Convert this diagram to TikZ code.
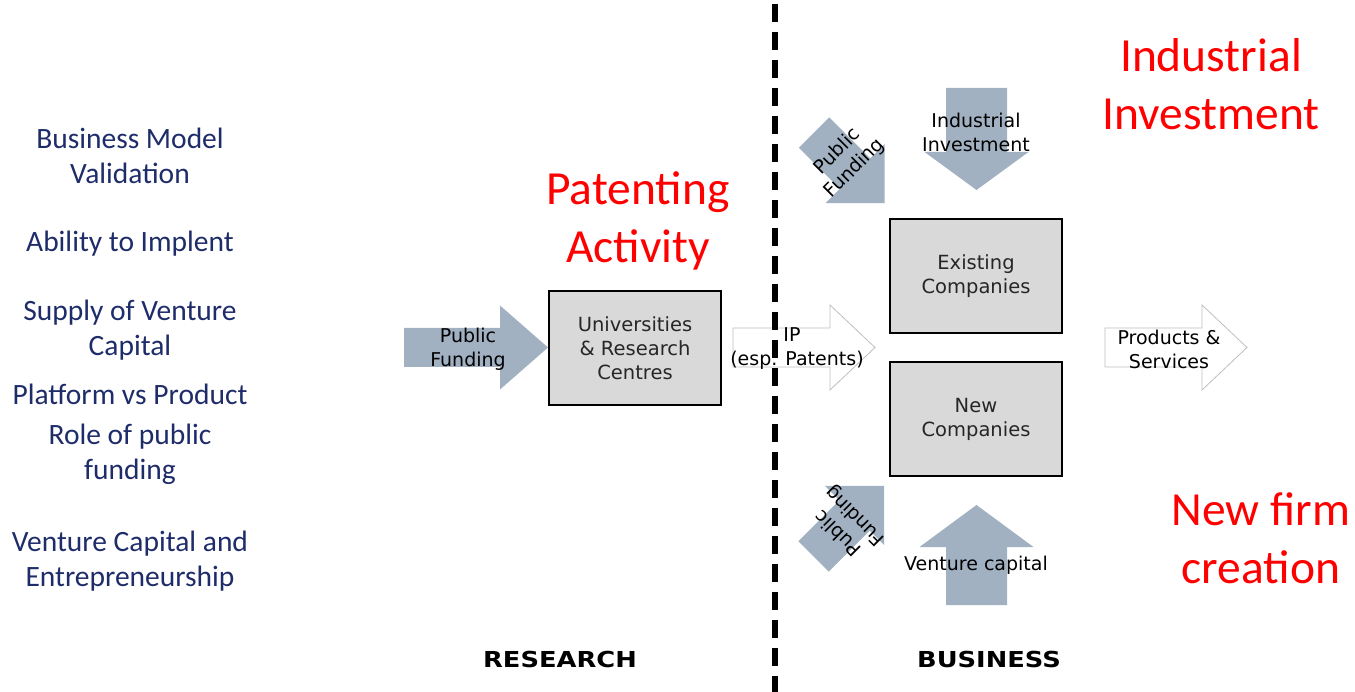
\documentclass[tikz,border=0pt]{standalone}
\usepackage{fontspec}
\setmainfont{DejaVu Sans}
\newfontfamily\calibri{Carlito}
\definecolor{navy}{RGB}{31,44,106}
\definecolor{arrowgray}{RGB}{161,177,194}
\definecolor{boxgray}{RGB}{217,217,217}
% block arrow: style, tail, angle, length, body half width, head half width, head length
\newcommand{\blockarrow}[7]{%
  \path[#1,shift={(#2)},rotate=#3] (0,-#5) -- ({#4-#7},-#5) -- ({#4-#7},-#6) -- (#4,0)
    -- ({#4-#7},#6) -- ({#4-#7},#5) -- (0,#5) -- cycle;}
\tikzset{
  fatarrow/.style={fill=arrowgray},
  hollowarrow/.style={fill=white,draw=black!25,line width=0.8pt},
  box/.style={draw=black,line width=2pt,fill=boxgray,minimum width=172pt,minimum height=114pt,
    align=center,text=black!85,font=\fontsize{19.5}{24}\selectfont},
  arrowtext/.style={align=center,font=\fontsize{19}{24}\selectfont},
  leftlabel/.style={align=center,text=navy,font=\calibri\fontsize{29.5}{35}\selectfont},
  redlabel/.style={align=center,text=red,font=\calibri\fontsize{47.5}{58}\selectfont},
  sidelabel/.style={font=\bfseries\fontsize{22}{26}\selectfont,xscale=1.17}
}
\begin{document}
\begin{tikzpicture}[x=1pt,y=-1pt]
\useasboundingbox (0,0) rectangle (1355,692);
% block arrows
\blockarrow{fatarrow}{404,347.5}{0}{144}{19.5}{42}{48}
\blockarrow{hollowarrow}{733,347.5}{0}{142}{19.5}{42.5}{45}
\blockarrow{hollowarrow}{1105,347.5}{0}{142}{19.5}{42.5}{45}
\blockarrow{fatarrow}{976.5,88}{-90}{102}{30.5}{52}{38}
\blockarrow{fatarrow}{976.5,605}{90}{100}{30.5}{57}{42}
\blockarrow{fatarrow}{814,132.5}{-45}{100}{21.5}{42}{42}
\blockarrow{fatarrow}{813.5,556.5}{45}{100}{21.5}{42}{42}
% boxes
\node[box] (univ) at (635,348) {Universities\\ \& Research\\ Centres};
\node[box] (exist) at (976,276.5) {Existing\\ Companies};
\node[box] (new) at (976,419) {New\\ Companies};
% arrow texts
\node[arrowtext] (pubfund) at (468,349) {Public\\ Funding};
\node[arrowtext] (ip) at (797,349) {IP\hspace*{10pt}\\ (esp. Patents)};
\node[arrowtext] (prod) at (1169,349) {Products \&\\ Services};
\node[arrowtext] (indinv) at (976,132) {Industrial\\ Investment};
\node[arrowtext] (vc) at (976,565) {Venture capital};
\node[arrowtext,rotate=45] (pubtop) at (846,160) {Public\\ Funding};
\node[arrowtext,rotate=135] (pubbot) at (847,524) {Public\\ Funding};
% left column
\node[leftlabel] (bmv) at (130,156) {Business Model\\ Validation};
\node[leftlabel] (abil) at (130,244) {Ability to Implent};
\node[leftlabel] (supply) at (130,330) {Supply of Venture\\ Capital};
\node[leftlabel] (platf) at (130,394) {Platform vs Product};
\node[leftlabel] (role) at (130,454) {Role of public\\ funding};
\node[leftlabel] (vcent) at (130,561) {Venture Capital and\\ Entrepreneurship};
% red headings
\node[redlabel] (patent) at (638,221) {Patenting\\ Activity};
\node[redlabel] (indhead) at (1211,84) {Industrial\\ Investment};
\node[redlabel] (newfirm) at (1261,538) {New firm\\ creation};
% research / business
\node[sidelabel] (research) at (560,659) {RESEARCH};
\node[sidelabel] (business) at (989,659) {BUSINESS};
% divider
\draw[line width=6.5pt,dash pattern=on 18pt off 10pt] (775,4) -- (775,692);
\end{tikzpicture}
\end{document}
